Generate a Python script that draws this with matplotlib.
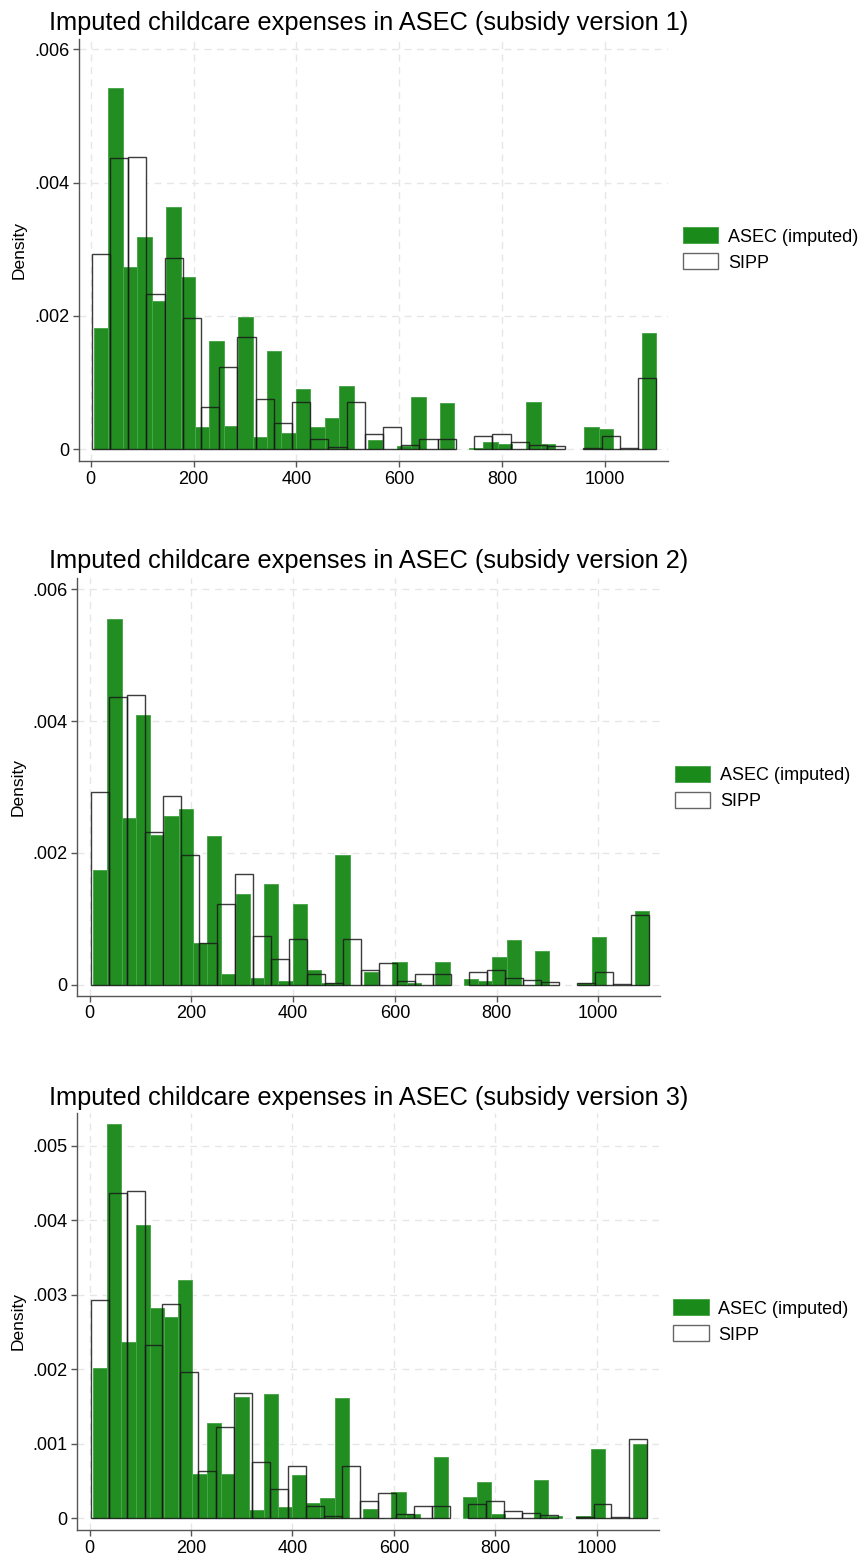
import numpy as np
from matplotlib import pyplot as plt
from matplotlib.patches import Patch
from matplotlib.ticker import FuncFormatter, MultipleLocator

plt.rcParams['font.family'] = ['Liberation Sans', 'DejaVu Sans']

# histogram bins
asec_start, asec_width, asec_nbins = 6.5, 28.04, 39
sipp_start, sipp_width, sipp_nbins = 2.0, 35.42, 31

# SIPP density, same in all three panels
sipp = [0.002923, 0.00437, 0.00439, 0.002323, 0.002869, 0.001962, 0.000626,
        0.001227, 0.001677, 0.000746, 0.00039, 0.000701, 0.000155, 0.000025,
        0.000701, 0.000228, 0.000335, 0.00006, 0.000155, 0.000155, 0.0,
        0.00019, 0.000225, 0.0001, 0.000065, 0.00004, 0.0, 0.00002, 0.00019,
        0.00001, 0.00106]

# ASEC imputed density, one list per subsidy version
asec_v1 = [0.001817, 0.005427, 0.002733, 0.003184, 0.002223, 0.00364, 0.002588,
           0.00033, 0.001627, 0.00034, 0.001987, 0.000185, 0.001472, 0.00024,
           0.000896, 0.00033, 0.000466, 0.000941, 0.0, 0.00014, 0.0, 0.00005,
           0.00078, 0.0, 0.00069, 0.0, 0.000015, 0.00011, 0.000075, 0.0,
           0.000706, 0.000075, 0.0, 0.0, 0.000325, 0.0003, 0.0, 0.0, 0.001737]
asec_v2 = [0.001735, 0.005555, 0.002535, 0.004093, 0.002272, 0.002565, 0.002671,
           0.000627, 0.002256, 0.000162, 0.001371, 0.0001, 0.001533, 0.00006,
           0.001224, 0.000223, 0.00002, 0.001968, 0.0, 0.000192, 0.0, 0.000344,
           0.00003, 0.0, 0.000344, 0.0, 0.00008, 0.00006, 0.000425, 0.000678,
           0.0, 0.000516, 0.0, 0.0, 0.00003, 0.000718, 0.0, 0.0, 0.001118]
asec_v3 = [0.00201, 0.005287, 0.002368, 0.003935, 0.00282, 0.002704, 0.003192,
           0.000586, 0.001271, 0.000591, 0.00162, 0.000107, 0.00167, 0.000143,
           0.000577, 0.0002, 0.000269, 0.001616, 0.0, 0.000116, 0.0, 0.000354,
           0.00005, 0.0, 0.000819, 0.0, 0.000278, 0.000483, 0.00006, 0.0, 0.0,
           0.000506, 0.00003, 0.0, 0.00003, 0.000931, 0.0, 0.0, 0.000994]

titles = ['Imputed childcare expenses in ASEC (subsidy version 1)',
          'Imputed childcare expenses in ASEC (subsidy version 2)',
          'Imputed childcare expenses in ASEC (subsidy version 3)']
legend_labels = ['ASEC (imputed)', 'SIPP']

W, H = 864, 1559
green = '#1a8a1a'

# layout in pixels: axes box (left, top, right, bottom), title baseline, legend top-left
panels = [
    dict(data=asec_v1, box=(79, 39, 668, 461), xlim=(-22.8, 1123), ylim=(-0.00018, 0.006157),
         ystep=0.002, title_y=30, leg=(682.7, 227.3)),
    dict(data=asec_v2, box=(77.3, 578, 660, 995.7), xlim=(-24.4, 1121.4), ylim=(-0.000167, 0.006172),
         ystep=0.002, title_y=568, leg=(675, 765.7)),
    dict(data=asec_v3, box=(77.3, 1113, 659, 1530), xlim=(-24.3, 1122.9), ylim=(-0.000161, 0.005438),
         ystep=0.001, title_y=1105, leg=(673.3, 1299.3)),
]


def dens_fmt(v, pos):
    if abs(v) < 1e-9:
        return '0'
    return '{:.3f}'.format(v).lstrip('0')


fig = plt.figure(figsize=(W / 100, H / 100), dpi=100)

sipp_h = np.array(sipp)
sipp_x = sipp_start + sipp_width * np.arange(sipp_nbins)
sipp_ok = sipp_h > 0

for i, p in enumerate(panels):
    l, t, r, b = p['box']
    ax = fig.add_axes([l / W, 1 - b / H, (r - l) / W, (b - t) / H])

    asec_h = np.array(p['data'])
    asec_x = asec_start + asec_width * np.arange(asec_nbins)
    ok = asec_h > 0

    # SIPP white fill, green on top, then SIPP outlines over everything
    ax.bar(sipp_x[sipp_ok], sipp_h[sipp_ok], width=sipp_width, align='edge',
           color='white', linewidth=0, zorder=2)
    ax.bar(asec_x[ok], asec_h[ok], width=asec_width, align='edge',
           color=green, edgecolor='#4aa64a', linewidth=0.7, alpha=0.97, zorder=3)
    ax.bar(sipp_x[sipp_ok], sipp_h[sipp_ok], width=sipp_width, align='edge',
           facecolor='none', edgecolor='#1a1a1a', linewidth=1.0, alpha=0.85, zorder=4)

    ax.set_xlim(*p['xlim'])
    ax.set_ylim(*p['ylim'])
    ax.xaxis.set_major_locator(MultipleLocator(200))
    ax.yaxis.set_major_locator(MultipleLocator(p['ystep']))
    ax.yaxis.set_major_formatter(FuncFormatter(dens_fmt))

    ax.grid(True, color='#e6e6e6', linestyle=(0, (5, 4)), linewidth=1.0, zorder=0)
    ax.set_axisbelow(True)
    for s in ['top', 'right']:
        ax.spines[s].set_visible(False)
    for s in ['left', 'bottom']:
        ax.spines[s].set_color('#555555')
        ax.spines[s].set_linewidth(1.0)
    ax.tick_params(axis='both', direction='out', length=4, width=1, color='#555555',
                   labelsize=13, pad=3)
    ax.set_ylabel('Density', fontsize=12.5, labelpad=5)

    fig.text(49 / W, 1 - p['title_y'] / H, titles[i], fontsize=18.3,
             ha='left', va='baseline')

    handles = [Patch(facecolor=green, edgecolor='#4aa64a', linewidth=0.7),
               Patch(facecolor='white', edgecolor='#666666', linewidth=1.0)]
    lx, ly = p['leg']
    fig.legend(handles, legend_labels, loc='upper left',
               bbox_to_anchor=(lx / W, 1 - ly / H), frameon=False, fontsize=13,
               handlelength=1.95, handleheight=1.0, handletextpad=0.55,
               labelspacing=0.43, borderpad=0, borderaxespad=0)

fig.savefig('out.png', dpi=100)
